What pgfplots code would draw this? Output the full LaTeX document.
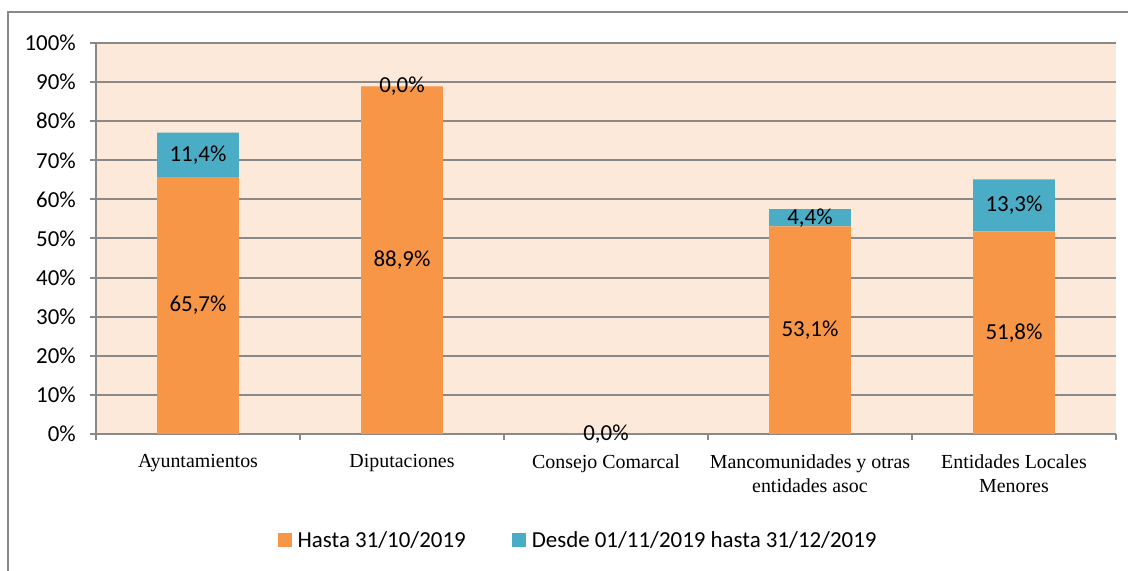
\documentclass[border=0pt]{standalone}
\usepackage{pgfplots}
\pgfplotsset{compat=1.18}
\usepackage{fontspec}
\setmainfont{Carlito}
\newfontfamily\timesf{Liberation Serif}
\definecolor{orangebar}{HTML}{F79646}
\definecolor{bluebar}{HTML}{4BACC6}
\definecolor{plotbg}{HTML}{FDE9D9}
\definecolor{gridgray}{HTML}{898989}
\begin{document}
\begin{tikzpicture}[x=1bp,y=1bp]
\useasboundingbox (0,0) rectangle (1128,571);
\draw[gridgray, line width=2bp] (8,0) -- (8,559) -- (1128,559);
\begin{axis}[
  at={(96bp,137bp)}, anchor=south west,
  scale only axis,
  width=1020bp, height=391bp,
  xmin=0, xmax=5, ymin=0, ymax=100,
  ybar stacked, stacked ignores zero=false, bar width=0.4,
  axis background/.style={fill=plotbg},
  axis x line=bottom, axis y line=left,
  axis line style={-, draw=gridgray, line width=2bp},
  tick align=outside,
  major tick length=6bp,
  tick style={draw=gridgray, line width=2bp},
  ymajorgrids,
  grid style={draw=gridgray, line width=2bp},
  ytick={0,10,...,100},
  yticklabels={0\%,10\%,20\%,30\%,40\%,50\%,60\%,70\%,80\%,90\%,100\%},
  yticklabel style={font=\fontsize{23}{27}\selectfont, anchor=east, inner sep=0pt, xshift=-14bp},
  xtick={0,1,2,3,4,5},
  xticklabels={},
  extra x ticks={0.5,1.5,2.5,3.5,4.5},
  extra x tick labels={Ayuntamientos, Diputaciones, Consejo Comarcal, {Mancomunidades y otras\\entidades asoc}, {Entidades Locales\\Menores}},
  extra x tick style={major tick length=0pt, grid=none,
     xticklabel style={font=\timesf\fontsize{20}{25}\selectfont, align=center, anchor=north, inner sep=0pt, yshift=-20bp}},
  point meta=explicit symbolic,
  nodes near coords,
  nodes near coords align={center},
  every node near coord/.append style={anchor=center, inner sep=0pt, text=black, font=\fontsize{23}{27}\selectfont},
  legend columns=2,
  legend style={draw=none, fill=none, at={(0.1784,-0.2711)}, anchor=west, inner sep=0pt,
     font=\fontsize{23}{27}\selectfont,
     /tikz/every odd column/.append style={column sep=3bp},
     /tikz/every even column/.append style={column sep=44bp},
     nodes={inner sep=2.5bp}},
  legend image code/.code={\fill[#1] (0bp,-7bp) rectangle (14bp,7bp);},
]
\addplot[fill=orangebar, draw=none] coordinates {
  (0.5,65.7) [65,7\%]
  (1.5,88.9) [88,9\%]
  (2.5,0.0) [0,0\%]
  (3.5,53.1) [53,1\%]
  (4.5,51.8) [51,8\%]
};
\addplot[fill=bluebar, draw=none] coordinates {
  (0.5,11.4) [11,4\%]
  (1.5,0.0) [0,0\%]
  (2.5,0.0) []
  (3.5,4.4) [4,4\%]
  (4.5,13.3) [13,3\%]
};
\legend{Hasta 31/10/2019, Desde 01/11/2019 hasta 31/12/2019}
\end{axis}
\end{tikzpicture}
\end{document}
